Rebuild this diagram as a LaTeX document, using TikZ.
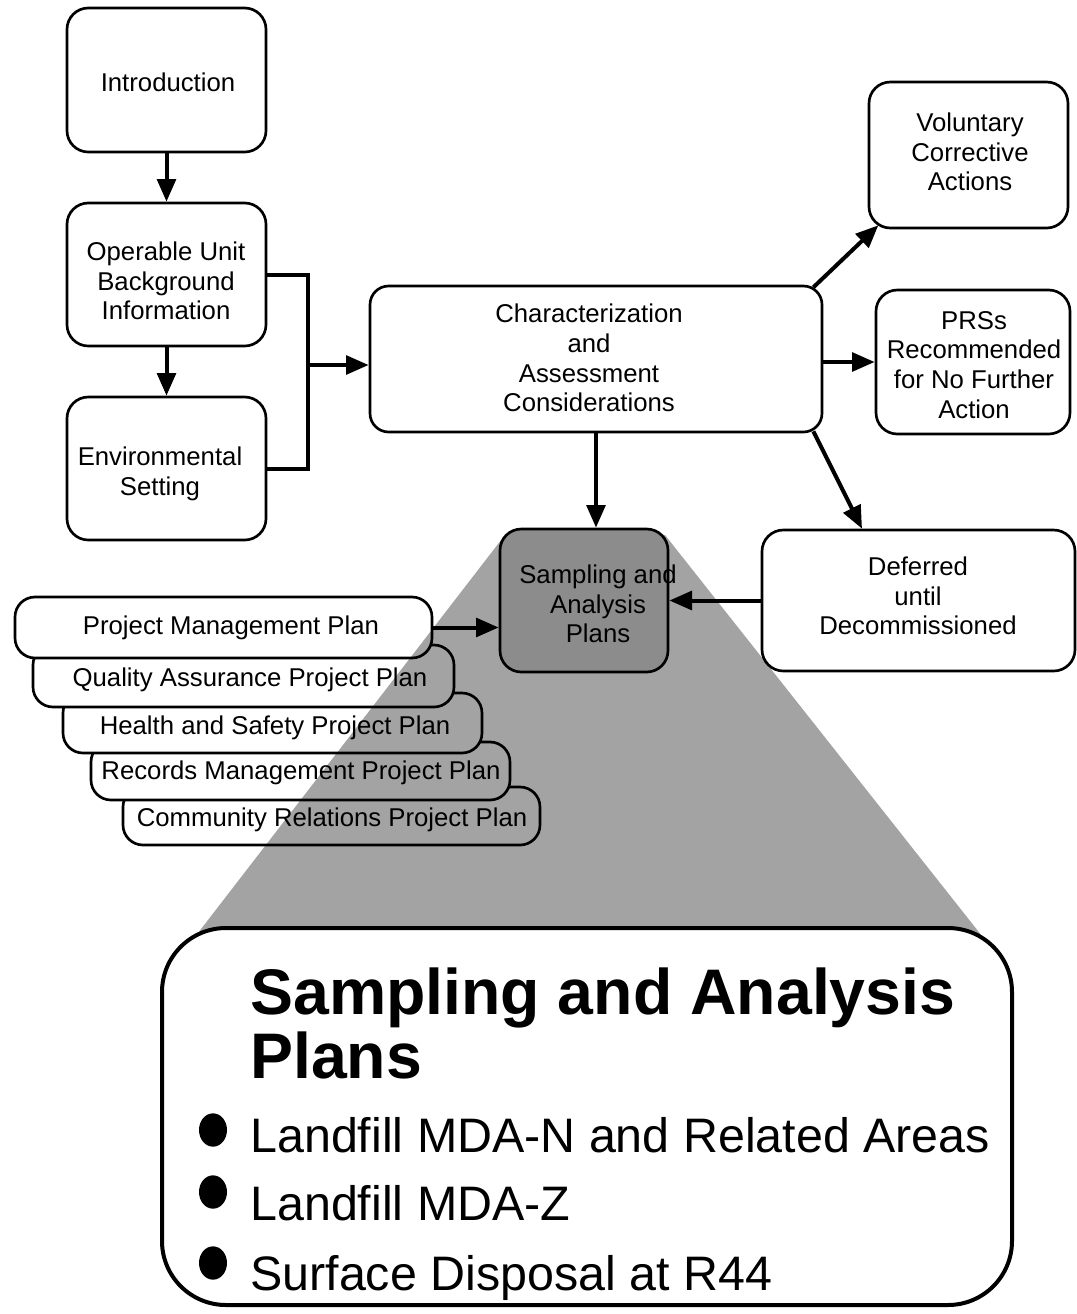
\documentclass[tikz,border=0pt]{standalone}
\usepackage{fontspec}
\setmainfont{Liberation Sans}
\usetikzlibrary{arrows.meta,fit,shapes.geometric}
\begin{document}
\begin{tikzpicture}[x=0.75pt,y=-0.75pt,
  box/.style={draw, line width=2pt, rounded corners=16pt, fill=white, inner sep=0pt},
  plan/.style={draw, line width=2pt, rounded corners=15pt, fill=white, inner sep=0pt},
  txt/.style={align=center, font=\fontsize{19.3}{22.3}\selectfont, inner sep=0pt},
  arr/.style={line width=3pt, -{Triangle[length=17pt,width=14pt]}},
  link/.style={line width=3pt},
  bullet/.style={ellipse, fill=black, minimum width=21pt, minimum height=25pt, inner sep=0pt},
  bigtxt/.style={anchor=base west, inner sep=0pt, font=\fontsize{36.3}{40}\selectfont},
  titletxt/.style={anchor=base west, inner sep=0pt, font=\fontsize{48.3}{52}\selectfont\bfseries},
]
\useasboundingbox (0,0) rectangle (1077,1314);

% ---- left column ----
\node[box, fit={(67,8) (266,152)}] (intro) {};
\node[txt] (introt) at (168,82) {Introduction};
\node[box, fit={(67,203) (266,346)}] (op) {};
\node[txt] (opt) at (166,281) {Operable Unit\\Background\\Information};
\node[box, fit={(67,397) (266,540)}] (env) {};
\node[txt] (envt) at (160,474) {Environmental\\Setting};

\draw[arr] (intro.south) -- (op.north);
\draw[arr] (op.south) -- (env.north);

% ---- central box and outcomes ----
\node[box, rounded corners=14pt, fit={(370,286) (822,432)}] (char) {};
\node[txt] (chart) at (589,358) {Characterization\\and\\Assessment\\Considerations};
\node[box, fit={(869,82) (1068,228)}] (vol) {};
\node[txt] (volt) at (970,152) {Voluntary\\Corrective\\Actions};
\node[box, fit={(876,290) (1070,434)}] (prs) {};
\node[txt] (prst) at (974,365) {PRSs\\Recommended\\for No Further\\Action};

% bracket joining the two background boxes
\coordinate (brtop) at (308,274.5);
\coordinate (brbot) at (308,468.5);
\coordinate (brmid) at (308,365);
\draw[link] (op.east) -- (brtop) -- (brbot) -- (env.east);
\draw[arr] (brmid) -- (char.west |- brmid);

\draw[arr] ([xshift=-7.5pt,yshift=-2pt]char.north east) -- ([xshift=8pt,yshift=3pt]vol.south west);
\draw[arr] (char.east |- prs.west) -- (prs.west);

% ---- supporting plans, stacked back to front ----
\node[plan, fit={(123,787) (540,845)}] (crpp) {};
\node[txt] (crppt) at (332,820) {Community Relations Project Plan};
\node[plan, fit={(91,742) (510,800)}] (rmpp) {};
\node[txt] (rmppt) at (301,773) {Records Management Project Plan};
\node[plan, fit={(63,693) (482,753)}] (hspp) {};
\node[txt] (hsppt) at (275,728) {Health and Safety Project Plan};
\node[plan, fit={(33,645) (454,707)}] (qapp) {};
\node[txt] (qappt) at (250,680) {Quality Assurance Project Plan};
\node[plan, fit={(15,597) (432,658)}] (pmp) {};
\node[txt] (pmpt) at (231,628) {Project Management Plan};

% ---- shaded fan from the sampling plans box ----
\fill[black, fill opacity=0.36] (505,535) -- (665,535) -- (997,955) -- (181,955) -- cycle;

\node[box, fill=black!45, fit={(500,529) (668,672)}] (samp) {};
\node[txt] (sampt) at (598,604) {Sampling and\\Analysis\\Plans};
\node[box, fit={(762,530) (1075,671)}] (def) {};
\node[txt] (deft) at (918,596) {Deferred\\until\\Decommissioned};

\draw[arr] (char.south) -- (char.south |- samp.north);
\draw[arr] ([xshift=-7.5pt,yshift=1.5pt]char.south east) -- ([xshift=76pt]def.north west);
\draw[arr] (def.west) -- (def.west -| samp.east);
\draw[arr] (pmp.east) -- (pmp.east -| samp.west);

% ---- enlarged sampling and analysis plans ----
\node[draw, line width=3pt, rounded corners=48pt, fill=white, inner sep=0pt, fit={(162,928) (1012,1305)}] (big) {};
\node[titletxt] (title1) at (250,1014) {Sampling and Analysis};
\node[titletxt] (title2) at (250,1078) {Plans};
\node[bullet] (b1) at (213,1130) {};
\node[bigtxt] (l1) at (250,1152) {Landfill MDA-N and Related Areas};
\node[bullet] (b2) at (213,1192) {};
\node[bigtxt] (l2) at (250,1220) {Landfill MDA-Z};
\node[bullet] (b3) at (213,1263) {};
\node[bigtxt] (l3) at (250,1290) {Surface Disposal at R44};
\end{tikzpicture}
\end{document}
